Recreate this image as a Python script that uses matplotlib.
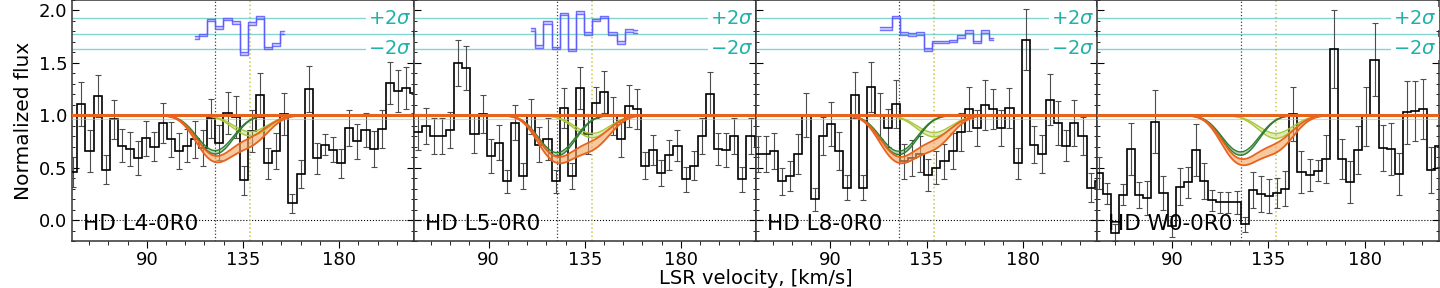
import numpy as np
import matplotlib.pyplot as plt
from matplotlib.ticker import MultipleLocator
import matplotlib.transforms as mtransforms

names = ["HD L4-0R0", "HD L5-0R0", "HD L8-0R0", "HD W0-0R0"]
bin_w = 3.8
v_start = [55.6, 53.0, 56.0, 55.5]

flux_l4 = [0.46, 1.11, 0.66, 1.18, 0.48, 0.96, 0.71, 0.68, 0.59, 0.78,
           0.70, 0.93, 0.77, 0.66, 0.71, 0.77, 0.69, 0.97, 0.74, 1.02,
           0.98, 0.38, 0.85, 1.19, 0.54, 0.66, 1.01, 0.16, 0.44, 1.25,
           0.59, 0.72, 0.67, 0.54, 0.88, 0.75, 0.86, 0.68, 0.87, 1.31,
           1.23, 1.26, 1.21, 1.12]
err_l4 = [0.14, 0.21, 0.20, 0.20, 0.14, 0.19, 0.16, 0.16, 0.16, 0.17,
          0.14, 0.19, 0.17, 0.17, 0.16, 0.18, 0.17, 0.19, 0.17, 0.20,
          0.20, 0.14, 0.20, 0.21, 0.15, 0.17, 0.20, 0.09, 0.13, 0.22,
          0.15, 0.10, 0.12, 0.14, 0.17, 0.17, 0.16, 0.17, 0.18, 0.20,
          0.20, 0.20, 0.19, 0.20]

flux_l5 = [0.84, 0.84, 0.90, 0.80, 0.80, 0.86, 1.50, 1.45, 0.82, 1.01,
           0.61, 0.74, 0.37, 0.93, 0.42, 0.99, 0.72, 0.77, 0.37, 1.07,
           0.42, 1.26, 0.82, 1.12, 1.22, 0.99, 0.77, 1.09, 1.06, 0.52,
           0.67, 0.45, 0.62, 0.71, 0.39, 0.52, 0.80, 1.20, 0.68, 0.67,
           0.80, 0.39, 0.80, 0.71]
err_l5 = [0.17, 0.17, 0.17, 0.17, 0.17, 0.17, 0.22, 0.21, 0.18, 0.18,
          0.16, 0.17, 0.11, 0.17, 0.12, 0.17, 0.17, 0.20, 0.11, 0.19,
          0.12, 0.20, 0.19, 0.15, 0.20, 0.18, 0.17, 0.20, 0.19, 0.13,
          0.14, 0.12, 0.14, 0.15, 0.12, 0.14, 0.17, 0.21, 0.15, 0.16,
          0.17, 0.12, 0.17, 0.17]

flux_l8 = [0.63, 0.63, 0.66, 0.37, 0.42, 0.63, 1.00, 0.20, 0.80, 0.92,
           0.66, 0.31, 1.19, 0.31, 1.27, 0.99, 0.88, 1.11, 0.56, 0.59,
           0.63, 0.43, 0.50, 0.56, 0.66, 0.84, 1.06, 0.88, 1.10, 1.06,
           0.88, 1.07, 0.54, 1.72, 0.72, 0.63, 1.15, 0.93, 0.71, 0.93,
           0.80, 0.31, 0.37]
err_l8 = [0.17, 0.17, 0.17, 0.13, 0.14, 0.19, 0.21, 0.11, 0.18, 0.21,
          0.18, 0.12, 0.22, 0.12, 0.24, 0.22, 0.18, 0.23, 0.17, 0.17,
          0.17, 0.15, 0.16, 0.17, 0.17, 0.18, 0.21, 0.17, 0.24, 0.19,
          0.17, 0.19, 0.15, 0.29, 0.18, 0.18, 0.24, 0.21, 0.15, 0.22,
          0.18, 0.14, 0.14]

flux_w0 = [0.45, 0.25, -0.12, 0.24, 0.68, 0.24, 0.21, 0.94, 0.26, -0.06,
           0.32, 0.36, 0.67, 0.37, 0.19, 0.17, 0.17, 0.17, -0.04, 0.29,
           0.25, 0.23, 0.26, 0.30, 1.01, 0.46, 0.43, 0.47, 0.58, 1.63,
           0.58, 0.36, 0.67, 0.99, 1.53, 0.69, 0.68, 0.44, 1.03, 1.04,
           1.06, 0.48, 0.71]
err_w0 = [0.15, 0.10, 0.08, 0.10, 0.25, 0.12, 0.16, 0.30, 0.16, 0.10,
          0.18, 0.15, 0.25, 0.17, 0.10, 0.10, 0.10, 0.11, 0.07, 0.17,
          0.17, 0.16, 0.14, 0.17, 0.26, 0.20, 0.15, 0.10, 0.23, 0.37,
          0.19, 0.20, 0.23, 0.28, 0.35, 0.22, 0.25, 0.20, 0.30, 0.29,
          0.29, 0.22, 0.20]

fluxes = [flux_l4, flux_l5, flux_l8, flux_w0]
errors = [err_l4, err_l5, err_l8, err_w0]

# residuals shown above the spectra (already shifted to the 1.78 baseline)
res_start = [112.6, 110.0, 113.0, None]
res_l4 = [1.744, 1.766, 1.91, 1.84, 1.92, 1.884, 1.59, 1.878, 1.935, 1.64,
          1.677, 1.79]
res_l5 = [1.82, 1.655, 1.884, 1.64, 1.966, 1.623, 1.982, 1.78, 1.91, 1.94,
          1.78, 1.693, 1.81, 1.80]
res_l8 = [1.83, 1.83, 1.94, 1.78, 1.77, 1.78, 1.63, 1.70, 1.70, 1.71,
          1.75, 1.80, 1.70, 1.80, 1.73]
residuals = [res_l4, res_l5, res_l8, None]
res_mid = 1.78
res_2sig = 0.146

# two absorption components (centre, width) and optical depth ranges
v_a, b_a = 122.0, 11.0
v_b, b_b = 138.5, 11.0
tau_a_green = [(0.41, 0.46), (0.44, 0.49), (0.42, 0.47), (0.43, 0.48)]
tau_b_green = [(0.17, 0.22), (0.19, 0.24), (0.18, 0.23), (0.19, 0.25)]
tau_a_total = [(0.47, 0.56), (0.48, 0.57), (0.48, 0.57), (0.51, 0.60)]
tau_b_total = [(0.19, 0.30), (0.23, 0.35), (0.22, 0.34), (0.26, 0.38)]

c_orange = '#e8641e'
c_dgreen = '#2f7d32'
c_lgreen = '#a8c83c'
c_teal = 'lightseagreen'
c_blue = '#5b5bff'

fig, axes = plt.subplots(1, 4, figsize=(14.4, 2.88), dpi=100, sharey=True)
fig.subplots_adjust(left=0.05, right=0.9995, bottom=0.163, top=1.0, wspace=0)

v = np.linspace(55, 215, 800)
phi_a = np.exp(-((v - v_a) / b_a) ** 2)
phi_b = np.exp(-((v - v_b) / b_b) ** 2)

for k, ax in enumerate(axes):
    fl = np.array(fluxes[k])
    er = np.array(errors[k])
    cen = v_start[k] + bin_w * np.arange(len(fl))
    edges = np.append(cen - bin_w / 2, cen[-1] + bin_w / 2)

    ax.axhline(0, color='k', ls=':', lw=0.8, zorder=1)
    ax.axvline(v_a, color='0.25', ls=':', lw=0.9, zorder=1)
    ax.axvline(v_b, color='#c8c850', ls=':', lw=1.1, zorder=1)

    ax.errorbar(cen, fl, yerr=er, fmt='none', ecolor='0.3', elinewidth=0.8,
                capsize=2, capthick=0.8, zorder=2)
    ax.stairs(fl, edges, baseline=None, color='k', lw=1.2, zorder=3)

    # continuum
    ax.axhline(0.965, color='#f5b041', lw=0.8, alpha=0.6, zorder=4)

    # total model band
    lo = np.exp(-(tau_a_total[k][1] * phi_a + tau_b_total[k][1] * phi_b))
    hi = np.exp(-(tau_a_total[k][0] * phi_a + tau_b_total[k][0] * phi_b))
    ax.fill_between(v, lo, hi, color='#f4a460', alpha=0.6, lw=0, zorder=4)

    # components
    for tau, phi, col in [(tau_b_green[k], phi_b, c_lgreen),
                          (tau_a_green[k], phi_a, c_dgreen)]:
        g_lo = np.exp(-tau[1] * phi)
        g_hi = np.exp(-tau[0] * phi)
        ax.fill_between(v, g_lo, g_hi, color=col, alpha=0.35, lw=0, zorder=5)
        ax.plot(v, g_lo, color=col, lw=1.0, zorder=5)
        ax.plot(v, g_hi, color=col, lw=1.0, zorder=5)

    ax.plot(v, lo, color=c_orange, lw=1.3, zorder=6)
    ax.plot(v, hi, color=c_orange, lw=1.3, zorder=6)
    ax.axhline(1.0, color=c_orange, lw=2.2, zorder=6)

    # residual strip
    ax.axhline(res_mid, color=c_teal, lw=1.0, alpha=0.55, zorder=1)
    ax.axhline(res_mid + res_2sig, color=c_teal, lw=1.0, alpha=0.55, zorder=1)
    ax.axhline(res_mid - res_2sig, color=c_teal, lw=1.0, alpha=0.55, zorder=1)
    trans = mtransforms.blended_transform_factory(ax.transAxes, ax.transData)
    for yy, lab in [(res_mid + res_2sig, r'$+2\sigma$'),
                    (res_mid - res_2sig, r'$-2\sigma$')]:
        ax.text(0.993, yy, lab, transform=trans, ha='right', va='center',
                color=c_teal, fontsize=14, zorder=7,
                bbox=dict(facecolor='white', edgecolor='none', pad=1.5))

    if residuals[k] is not None:
        r = np.array(residuals[k])
        rx = res_start[k] + bin_w * np.arange(len(r))
        ax.fill_between(rx, r - 0.012, r + 0.012, step='mid', color=c_blue,
                        alpha=0.25, lw=0, zorder=6)
        ax.step(rx, r - 0.012, where='mid', color=c_blue, lw=1.0, alpha=0.85, zorder=6)
        ax.step(rx, r + 0.012, where='mid', color=c_blue, lw=1.0, alpha=0.85, zorder=6)

    ax.text(0.032, 0.03, names[k], transform=ax.transAxes, fontsize=15.5,
            ha='left', va='bottom', zorder=8)

    ax.set_xlim(55, 215)
    ax.set_ylim(-0.2, 2.1)
    ax.xaxis.set_major_locator(MultipleLocator(45))
    ax.xaxis.set_minor_locator(MultipleLocator(9))
    ax.yaxis.set_major_locator(MultipleLocator(0.5))
    ax.yaxis.set_minor_locator(MultipleLocator(0.1))
    ax.tick_params(axis='x', which='both', direction='out', labelsize=13, pad=2.5)
    ax.tick_params(axis='x', which='major', length=5)
    ax.tick_params(axis='x', which='minor', length=3)
    ax.tick_params(axis='y', which='both', direction='in', left=True, right=True,
                   labelsize=13)
    ax.tick_params(axis='y', which='major', length=5)
    ax.tick_params(axis='y', which='minor', length=2.5)
    for s in ax.spines.values():
        s.set_linewidth(1.1)
        s.set_color('0.2')

axes[0].set_ylabel('Normalized flux', fontsize=14.5)
fig.text(0.525, 0.0, 'LSR velocity, [km/s]', ha='center', va='bottom', fontsize=14)

fig.savefig('out.png', dpi=100)
